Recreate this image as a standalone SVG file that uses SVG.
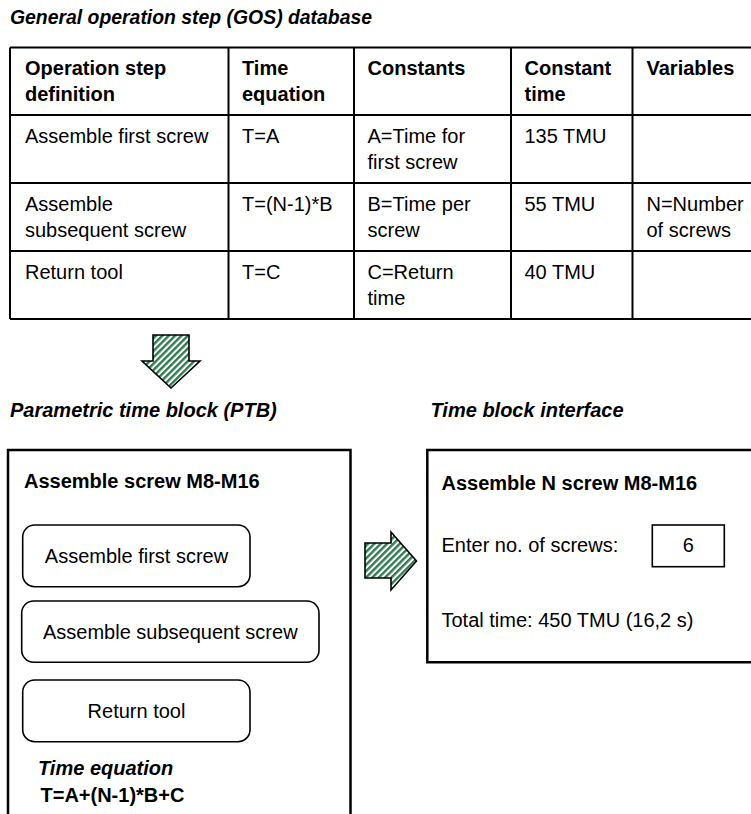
<svg xmlns="http://www.w3.org/2000/svg" width="751" height="814" viewBox="0 0 751 814">
<style>
text{font-family:"Liberation Sans",Arial,sans-serif;font-size:20px;fill:#000}
.b{font-weight:bold}
.bi{font-weight:bold;font-style:italic}
.grid{stroke:#000;stroke-width:2;fill:none}
.box{stroke:#000;stroke-width:2.5;fill:#fff}
.step{stroke:#000;stroke-width:1.6;fill:#fff}
.arrow{fill:url(#hatch);stroke:#000;stroke-width:1.6;stroke-linejoin:miter}
.mid{text-anchor:middle}
</style>
<defs>
<pattern id="hatch" patternUnits="userSpaceOnUse" width="4.5" height="4.5" patternTransform="rotate(45)">
<rect width="4.5" height="4.5" fill="#ffffff"/>
<rect width="2.4" height="4.5" fill="#2f7a4e"/>
</pattern>
</defs>

<g id="title-gos"><text class="bi" x="10" y="24" style="font-size:19.4px">General operation step (GOS) database</text></g>

<g id="gos-table">
<line class="grid" x1="10" y1="47.5" x2="751" y2="47.5"/>
<line class="grid" x1="10" y1="115" x2="751" y2="115"/>
<line class="grid" x1="10" y1="183" x2="751" y2="183"/>
<line class="grid" x1="10" y1="251" x2="751" y2="251"/>
<line class="grid" x1="10" y1="319" x2="751" y2="319"/>
<line class="grid" x1="10" y1="47.5" x2="10" y2="319"/>
<line class="grid" x1="228.5" y1="47.5" x2="228.5" y2="319"/>
<line class="grid" x1="354" y1="47.5" x2="354" y2="319"/>
<line class="grid" x1="511" y1="47.5" x2="511" y2="319"/>
<line class="grid" x1="632.5" y1="47.5" x2="632.5" y2="319"/>
<text class="b" x="25" y="75">Operation step</text>
<text class="b" x="25" y="101">definition</text>
<text class="b" x="242" y="75">Time</text>
<text class="b" x="242" y="101">equation</text>
<text class="b" x="367.5" y="75">Constants</text>
<text class="b" x="524.5" y="75">Constant</text>
<text class="b" x="524.5" y="101">time</text>
<text class="b" x="646.5" y="75">Variables</text>
<text x="25" y="143">Assemble first screw</text>
<text x="242" y="143">T=A</text>
<text x="367.5" y="143">A=Time for</text>
<text x="367.5" y="169">first screw</text>
<text x="524.5" y="143">135 TMU</text>
<text x="25" y="211">Assemble</text>
<text x="25" y="237">subsequent screw</text>
<text x="242" y="211">T=(N-1)*B</text>
<text x="367.5" y="211">B=Time per</text>
<text x="367.5" y="237">screw</text>
<text x="524.5" y="211">55 TMU</text>
<text x="646.5" y="211">N=Number</text>
<text x="646.5" y="237">of screws</text>
<text x="25" y="279">Return tool</text>
<text x="242" y="279">T=C</text>
<text x="367.5" y="279">C=Return</text>
<text x="367.5" y="305">time</text>
<text x="524.5" y="279">40 TMU</text>
</g>

<g id="connectors">
<polygon id="arrow-down" class="arrow" points="153,335 189,335 189,361 200,361 171,388 142,361 153,361"/>
<polygon id="arrow-right" class="arrow" points="365,543 391,543 391,532 416.5,561 391,590 391,578 365,578"/>
</g>

<g id="title-ptb"><text class="bi" x="10" y="417">Parametric time block (PTB)</text></g>
<g id="title-interface"><text class="bi" x="430.5" y="417">Time block interface</text></g>

<g id="ptb">
<path class="box" d="M8,816 V450 H350.5 V816"/>
<text class="b" x="24" y="488">Assemble screw M8-M16</text>
<g id="step-first">
<rect class="step" x="22.7" y="525" width="227.3" height="61.7" rx="12"/>
<text class="mid" x="136.5" y="563">Assemble first screw</text>
</g>
<g id="step-subsequent">
<rect class="step" x="21.7" y="601" width="297.3" height="61.3" rx="12"/>
<text class="mid" x="170.3" y="638.5">Assemble subsequent screw</text>
</g>
<g id="step-return">
<rect class="step" x="22.7" y="680" width="227.3" height="61.7" rx="12"/>
<text class="mid" x="136.5" y="717.5">Return tool</text>
</g>
<text class="bi" x="38" y="775">Time equation</text>
<text class="b" x="40.5" y="802">T=A+(N-1)*B+C</text>
</g>

<g id="interface">
<path class="box" d="M753,450 H427.3 V662.3 H753"/>
<text class="b" x="441.5" y="490">Assemble N screw M8-M16</text>
<text x="441.5" y="552">Enter no. of screws:</text>
<rect id="input-n" x="652.3" y="525" width="72" height="41.7" fill="#fff" stroke="#000" stroke-width="1.6"/>
<text class="mid" x="688.3" y="552">6</text>
<text x="441.5" y="627">Total time: 450 TMU (16,2 s)</text>
</g>
</svg>
